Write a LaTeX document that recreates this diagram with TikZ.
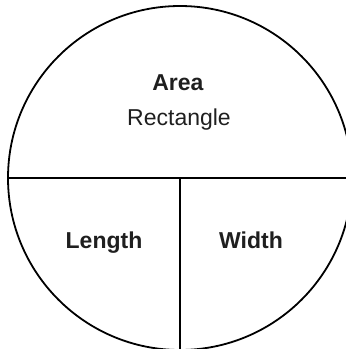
\documentclass[tikz,border=0pt]{standalone}
\usepackage{fontspec}
\setmainfont{Liberation Sans}
\usepackage{tikz}

\begin{document}
\begin{tikzpicture}[x=1pt, y=-1pt, line width=1.8pt,
    label text/.style={font=\fontsize{23}{27}\selectfont, text=black!88, inner sep=0pt, anchor=base}]
            \useasboundingbox (0,0) rectangle (346,349);
            % 圆
            \node (whole) [draw, circle, minimum size=344pt, inner sep=0pt] at (180,178) {};
            % 分割线
            \draw (whole.west) -- (whole.east);
            \draw (whole.center) -- (whole.south);
            % 文字
            \node (area) [label text] at (178,90) {\textbf{Area}};
            \node (rect) [label text] at (179,125) {Rectangle};
            \node (len) [label text] at (104,248) {\textbf{Length}};
            \node (wid) [label text] at (251,248) {\textbf{Width}};
        \end{tikzpicture}
\end{document}
